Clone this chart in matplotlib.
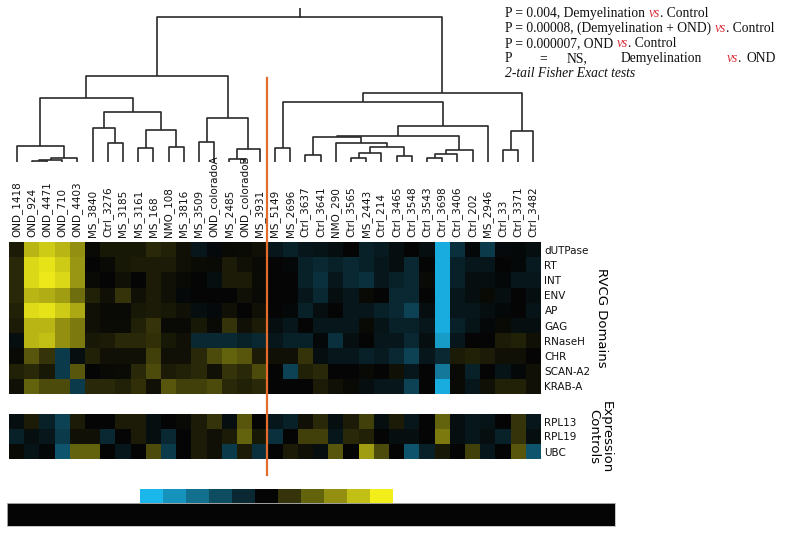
import numpy as np
import matplotlib
matplotlib.use('Agg')
import matplotlib.pyplot as plt
from matplotlib.colors import LinearSegmentedColormap
from matplotlib.lines import Line2D

samples = ['OND_1418', 'OND_924', 'OND_4471', 'OND_710', 'OND_4403', 'MS_3840', 'Ctrl_3276',
           'MS_3185', 'MS_3161', 'MS_168', 'NMO_108', 'MS_3816', 'MS_3509', 'OND_coloradoA',
           'MS_2485', 'OND_coloradoB', 'MS_3931',
           'MS_5149', 'MS_2696', 'Ctrl_3637', 'Ctrl_3641', 'NMO_290', 'Ctrl_3565', 'MS_2443',
           'Ctrl_214', 'Ctrl_3465', 'Ctrl_3548', 'Ctrl_3543', 'Ctrl_3698', 'Ctrl_3406', 'Ctrl_202',
           'MS_2946', 'Ctrl_33', 'Ctrl_3371', 'Ctrl_3482']
domains = ['dUTPase', 'RT', 'INT', 'ENV', 'AP', 'GAG', 'RNaseH', 'CHR', 'SCAN-A2', 'KRAB-A']
controls = ['RPL13', 'RPL19', 'UBC']

# log ratio, -1 = cyan, +1 = yellow
dUTPase = [0.1, 0.75, 0.85, 0.75, 0.6, 0.02, 0.08, 0.08, 0.08, 0.15, 0.12, 0.05, -0.1, -0.03, 0.02, 0.03, 0.05,
           -0.1, -0.15, -0.1, -0.08, -0.05, 0.0, -0.15, -0.12, -0.05, 0.0, -0.05, -0.95, -0.25, -0.02, -0.3, -0.03, -0.02, -0.05]
RT = [0.15, 0.9, 0.95, 0.85, 0.62, 0.0, 0.02, 0.08, 0.1, 0.1, 0.1, 0.05, 0.03, 0.02, 0.1, 0.05, 0.02,
      0.0, -0.02, -0.15, -0.2, -0.15, -0.2, -0.15, -0.1, -0.05, -0.2, 0.0, -0.95, -0.15, -0.1, -0.1, 0.0, -0.02, -0.12]
INT = [0.15, 0.9, 0.97, 0.9, 0.62, 0.02, 0.0, 0.05, 0.0, 0.1, 0.05, 0.02, 0.0, -0.05, 0.1, 0.1, 0.03,
       0.0, 0.0, -0.15, -0.25, -0.1, -0.2, -0.25, -0.1, -0.15, -0.2, 0.02, -0.95, -0.15, -0.05, -0.05, -0.02, -0.1, -0.1]
ENV = [0.15, 0.75, 0.72, 0.65, 0.45, 0.12, 0.05, 0.2, 0.05, 0.1, 0.05, -0.02, 0.0, 0.0, 0.0, 0.05, 0.02,
       0.0, 0.0, -0.1, -0.2, -0.05, -0.1, 0.02, 0.0, -0.2, -0.2, 0.0, -0.95, -0.1, -0.05, 0.02, -0.05, 0.0, -0.05]
AP = [0.12, 0.92, 0.95, 0.85, 0.7, 0.05, 0.02, 0.02, 0.08, 0.1, 0.08, 0.05, -0.05, -0.03, 0.05, 0.0, 0.05,
      0.0, -0.02, -0.15, -0.05, 0.0, -0.1, -0.1, -0.15, -0.2, -0.35, -0.05, -0.95, -0.1, -0.1, -0.05, -0.02, 0.0, -0.08]
GAG = [0.1, 0.75, 0.75, 0.6, 0.5, 0.05, 0.03, 0.03, 0.12, 0.2, 0.02, 0.02, 0.08, 0.02, 0.2, 0.05, 0.1,
       -0.05, -0.1, 0.0, -0.1, -0.1, -0.1, 0.02, -0.08, -0.15, -0.15, -0.1, -0.95, -0.15, -0.08, -0.02, 0.02, -0.05, -0.05]
RNaseH = [-0.05, 0.75, 0.8, 0.6, 0.5, 0.08, 0.1, 0.15, 0.15, 0.18, 0.08, 0.05, -0.2, -0.2, -0.2, -0.15, -0.2,
          -0.1, -0.15, -0.15, -0.02, -0.25, -0.05, 0.0, -0.1, -0.1, -0.2, -0.05, -0.85, -0.1, 0.0, 0.0, 0.1, 0.12, 0.05]
CHR = [0.02, 0.35, 0.2, -0.3, -0.05, 0.12, 0.05, 0.05, 0.05, 0.25, 0.05, 0.05, 0.15, 0.3, 0.4, 0.35, 0.1,
       0.05, 0.05, 0.2, -0.05, -0.1, -0.1, -0.15, -0.12, -0.2, -0.35, -0.1, -0.2, 0.1, 0.12, 0.1, 0.05, 0.05, 0.0]
SCAN_A2 = [0.12, 0.15, 0.08, -0.3, 0.35, 0.0, 0.02, 0.03, 0.15, 0.3, 0.1, 0.12, 0.15, 0.05, 0.2, 0.15, 0.3,
           0.0, -0.35, 0.12, 0.15, 0.0, 0.0, 0.02, 0.0, 0.05, -0.1, 0.0, -0.65, 0.02, -0.15, 0.0, -0.08, -0.02, 0.05]
KRAB_A = [0.05, 0.4, 0.3, 0.3, -0.3, 0.15, 0.15, 0.12, 0.18, 0.05, 0.35, 0.25, 0.25, 0.3, 0.15, 0.12, 0.15,
          0.0, 0.0, 0.0, 0.1, 0.05, 0.02, -0.05, -0.1, -0.1, -0.35, 0.0, -0.95, 0.02, -0.1, 0.05, 0.12, 0.12, 0.05]
RPL13 = [-0.05, 0.1, -0.15, -0.35, 0.1, 0.0, 0.0, 0.1, 0.1, -0.05, 0.0, 0.02, 0.1, 0.2, -0.05, 0.35, 0.0,
         -0.1, -0.15, 0.05, 0.15, -0.05, 0.1, 0.25, -0.05, 0.1, -0.1, 0.0, 0.4, -0.05, -0.1, -0.08, 0.0, 0.2, -0.1]
RPL19 = [-0.15, -0.05, -0.1, -0.3, 0.05, 0.05, -0.2, 0.0, 0.1, -0.05, -0.2, 0.0, 0.1, 0.05, 0.1, 0.4, 0.08,
         -0.25, 0.0, 0.25, 0.25, -0.1, 0.15, 0.12, 0.0, -0.05, -0.05, 0.0, 0.5, -0.05, -0.1, -0.05, -0.15, 0.2, -0.05]
UBC = [0.02, -0.08, -0.02, -0.45, 0.4, 0.4, 0.0, -0.1, 0.0, 0.3, -0.3, 0.0, 0.1, 0.05, -0.3, 0.1, -0.25,
       0.0, 0.1, 0.05, -0.05, 0.35, 0.0, 0.65, 0.3, 0.0, -0.45, -0.15, 0.08, 0.0, 0.25, -0.1, 0.0, 0.35, -0.45]

# dendrogram merges: (node a, node b, height); new nodes numbered from len(samples)
merges = [(1, 2, 1), (35, 3, 2.5), (36, 4, 4.5), (0, 37, 16),
          (6, 7, 19), (5, 39, 34), (8, 9, 14), (10, 11, 15), (41, 42, 32), (40, 43, 50), (38, 44, 64),
          (12, 13, 20), (14, 15, 3), (47, 16, 13), (46, 48, 44), (45, 49, 86),
          (17, 18, 14), (19, 20, 7), (22, 23, 4), (53, 24, 9), (25, 26, 6), (54, 55, 15), (21, 56, 19),
          (52, 57, 25), (27, 28, 4), (59, 29, 8), (60, 30, 12), (58, 61, 26), (62, 31, 36), (51, 63, 60),
          (32, 33, 12), (65, 34, 31), (64, 66, 69), (50, 67, 145)]
root_top = 154
split_at = 17
legend_vals = np.linspace(-1, 1, 11)

cmap = LinearSegmentedColormap.from_list('cyb', ['#1bb6ea', '#050505', '#f2ee1a'])

W, H = 800, 534
fig = plt.figure(figsize=(8, 5.34), dpi=100)


def px_axes(x0, y0, x1, y1):
    return fig.add_axes([x0 / W, 1 - y1 / H, (x1 - x0) / W, (y1 - y0) / H])


n = len(samples)

# dendrogram
ax_den = px_axes(9, 8, 541, 162)
nodes = {i: (i + 0.5, 0.0) for i in range(n)}
for k, (a, b, h) in enumerate(merges):
    xa, ha = nodes[a]
    xb, hb = nodes[b]
    ax_den.plot([xa, xa, xb, xb], [ha, h, h, hb], color='#2a2a2a', lw=1.2, solid_capstyle='butt')
    nodes[n + k] = ((xa + xb) / 2, h)
xr, hr = nodes[n + len(merges) - 1]
ax_den.plot([xr, xr], [hr, root_top], color='#2a2a2a', lw=1.2)
ax_den.set_xlim(0, n)
ax_den.set_ylim(0, root_top)
ax_den.axis('off')

# domain heatmap
dom = np.array([dUTPase, RT, INT, ENV, AP, GAG, RNaseH, CHR, SCAN_A2, KRAB_A])
ax_dom = px_axes(9, 242, 541, 394)
ax_dom.imshow(dom, cmap=cmap, vmin=-1, vmax=1, aspect='auto', interpolation='nearest',
              extent=(0, n, len(domains), 0))
ax_dom.xaxis.tick_top()
ax_dom.set_xticks(np.arange(n) + 0.5)
ax_dom.set_xticklabels(samples, rotation=90, fontsize=7.5, color='#111111')
ax_dom.tick_params(axis='x', length=0, pad=3.6)
ax_dom.yaxis.tick_right()
ax_dom.set_yticks(np.arange(len(domains)) + 0.5)
ax_dom.set_yticklabels(domains, fontsize=7.5, color='#111111')
ax_dom.tick_params(axis='y', length=0, pad=2.5)
for s in ax_dom.spines.values():
    s.set_visible(False)

# expression controls heatmap
ctl = np.array([RPL13, RPL19, UBC])
ax_ctl = px_axes(9, 414, 541, 459)
ax_ctl.imshow(ctl, cmap=cmap, vmin=-1, vmax=1, aspect='auto', interpolation='nearest',
              extent=(0, n, len(controls), 0))
ax_ctl.set_xticks([])
ax_ctl.yaxis.tick_right()
ax_ctl.set_yticks(np.arange(len(controls)) + 0.5)
ax_ctl.set_yticklabels(controls, fontsize=7.5, color='#111111')
ax_ctl.tick_params(axis='y', length=0, pad=2.5)
for s in ax_ctl.spines.values():
    s.set_visible(False)

fig.text(602 / W, 1 - 318 / H, 'RVCG Domains', rotation=270, ha='center', va='center', fontsize=9.5)
fig.text(600 / W, 1 - 437 / H, 'Expression\nControls', rotation=270, ha='center', va='center',
         fontsize=9.5, linespacing=1.0)

# orange split line
xs = ax_dom.transData.transform((split_at, 0))[0] / W
fig.add_artist(Line2D([xs, xs], [1 - 78 / H, 1 - 475 / H], transform=fig.transFigure,
                      color='#e36b2c', lw=1.6, zorder=10))

# colour legend
ax_leg = px_axes(140, 489, 393, 503)
ax_leg.imshow(legend_vals[np.newaxis, :], cmap=cmap, vmin=-1, vmax=1, aspect='auto',
              interpolation='nearest')
ax_leg.axis('off')
ax_bar = px_axes(7, 503, 615, 526)
ax_bar.set_facecolor('#050505')
ax_bar.set_xticks([])
ax_bar.set_yticks([])
for s in ax_bar.spines.values():
    s.set_color('#bbbbbb')
    s.set_linewidth(0.6)

# statistics text (y = baseline in pixels)
serif = 'Liberation Serif'
fs = 9.8
renderer = fig.canvas.get_renderer()


def rich_line(x, y, parts):
    for txt, color, style in parts:
        t = fig.text(x / W, 1 - y / H, txt, color=color, style=style, family=serif,
                     fontsize=fs, ha='left', va='baseline')
        x += t.get_window_extent(renderer=renderer).width


red = '#d9303a'
blk = '#111111'
rich_line(505, 17, [('P = 0.004, Demyelination ', blk, 'normal'), ('vs', red, 'italic'),
                    ('. Control', blk, 'normal')])
rich_line(505, 32, [('P = 0.00008, (Demyelination + OND) ', blk, 'normal'), ('vs', red, 'italic'),
                    ('. Control', blk, 'normal')])
rich_line(505, 47, [('P = 0.000007, OND ', blk, 'normal'), ('vs', red, 'italic'),
                    ('. Control', blk, 'normal')])
for word, xw, color, style, ha in [('P', 505, blk, 'normal', 'left'), ('=', 539, blk, 'normal', 'left'),
                                   ('NS,', 567, blk, 'normal', 'left'),
                                   ('Demyelination', 621, blk, 'normal', 'left'),
                                   ('vs', 727, red, 'italic', 'left'), ('.', 737.5, blk, 'normal', 'left'),
                                   ('OND', 776, blk, 'normal', 'right')]:
    fig.text(xw / W, 1 - 62 / H, word, color=color, style=style, family=serif, fontsize=fs,
             ha=ha, va='baseline')
fig.text(505 / W, 1 - 77 / H, '2-tail Fisher Exact tests', style='italic', family=serif,
         fontsize=fs, ha='left', va='baseline', color=blk)

fig.savefig('out.png', dpi=100)
